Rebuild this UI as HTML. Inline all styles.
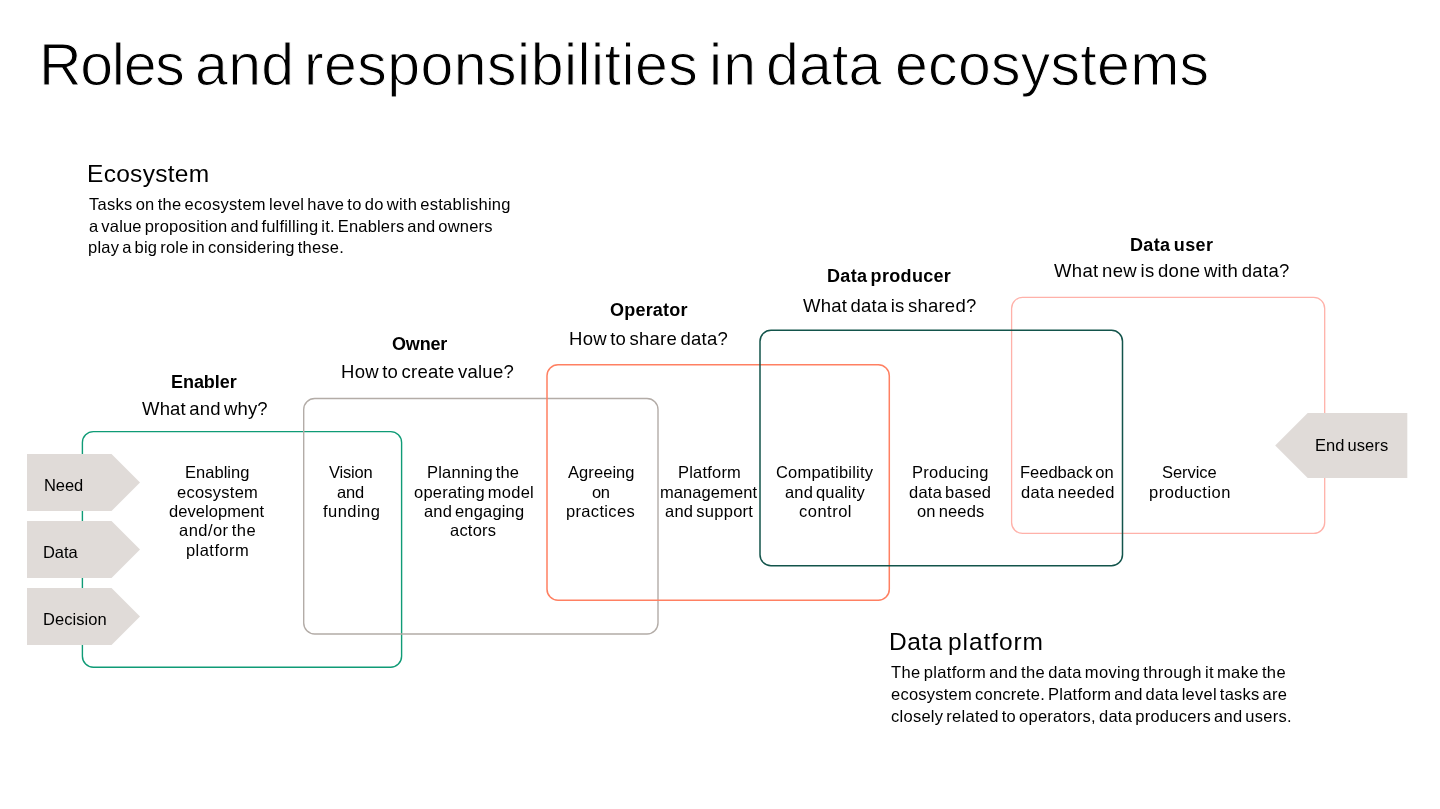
<!DOCTYPE html>
<html lang="en">
<head>
<meta charset="utf-8">
<title>Roles and responsibilities in data ecosystems</title>
<style>
html,body{margin:0;padding:0;background:#ffffff;}
body{width:1440px;height:809px;position:relative;overflow:hidden;font-family:"Liberation Sans", sans-serif;color:#000000;}
svg.shapes{position:absolute;left:0;top:0;width:1440px;height:809px;}
.t{position:absolute;white-space:nowrap;line-height:1;margin:0;padding:0;will-change:transform;}
.title{-webkit-text-stroke:1.0px #ffffff;}
.h{-webkit-text-stroke:0px #ffffff;}
</style>
</head>
<body>
<svg class="shapes" viewBox="0 0 1440 809" width="1440" height="809">
<rect x="1011.6" y="297.4" width="313.1" height="236.0" rx="11" ry="11" fill="none" stroke="#ffb1a9" stroke-width="1.3"/>
<rect x="82.4" y="431.6" width="319.2" height="235.6" rx="11" ry="11" fill="none" stroke="#0f9b76" stroke-width="1.4"/>
<rect x="303.7" y="398.5" width="354.3" height="235.5" rx="11" ry="11" fill="none" stroke="#b3aca7" stroke-width="1.4"/>
<rect x="547.0" y="364.7" width="342.3" height="235.6" rx="11" ry="11" fill="none" stroke="#ff8062" stroke-width="1.5"/>
<rect x="760.0" y="330.2" width="362.5" height="235.6" rx="11" ry="11" fill="none" stroke="#13544b" stroke-width="1.5"/>
<polygon points="27,454 111.5,454 140,482.5 111.5,511 27,511" fill="#e0dbd8"/>
<polygon points="27,521 111.5,521 140,549.5 111.5,578 27,578" fill="#e0dbd8"/>
<polygon points="27,588 111.5,588 140,616.5 111.5,645 27,645" fill="#e0dbd8"/>
<polygon points="1407.3,413 1307.7,413 1275.2,445.5 1307.7,478 1407.3,478" fill="#e0dbd8"/>
</svg>
<div class="t title" style="left:39.4px;top:35.7px;font-size:59px;letter-spacing:-1.3px;">Roles</div>
<div class="t title" style="left:194.5px;top:35.7px;font-size:59px;letter-spacing:0.35px;">and</div>
<div class="t title" style="left:303.8px;top:35.7px;font-size:59px;letter-spacing:0.453px;">responsibilities</div>
<div class="t title" style="left:709.1px;top:35.7px;font-size:59px;letter-spacing:1.1px;">in</div>
<div class="t title" style="left:765.6px;top:35.7px;font-size:59px;letter-spacing:0.167px;">data</div>
<div class="t title" style="left:894.8px;top:35.7px;font-size:59px;letter-spacing:0.289px;">ecosystems</div>
<div class="t h" style="left:87.4px;top:161.6px;font-size:24.5px;letter-spacing:0.3px;">Ecosystem</div>
<div class="t" style="left:89.4px;top:195.7px;font-size:16.5px;letter-spacing:0.284px;word-spacing:-1.81px;">Tasks on the ecosystem level have to do with establishing</div>
<div class="t" style="left:89.4px;top:217.5px;font-size:16.5px;letter-spacing:0.188px;word-spacing:-1.81px;">a value proposition and fulfilling it. Enablers and owners</div>
<div class="t" style="left:88.4px;top:239.4px;font-size:16.5px;letter-spacing:0.222px;word-spacing:-1.81px;">play a big role in considering these.</div>
<div class="t" style="left:170.7px;top:372.8px;font-size:18px;font-weight:700;letter-spacing:-0.05px;">Enabler</div>
<div class="t" style="left:141.7px;top:400.0px;font-size:18.5px;letter-spacing:0.183px;word-spacing:-2.04px;">What and why?</div>
<div class="t" style="left:392.2px;top:335.0px;font-size:18px;font-weight:700;letter-spacing:-0.175px;">Owner</div>
<div class="t" style="left:340.7px;top:363.3px;font-size:18.5px;letter-spacing:0.268px;word-spacing:-2.04px;">How to create value?</div>
<div class="t" style="left:610.0px;top:300.6px;font-size:18px;font-weight:700;letter-spacing:0.214px;">Operator</div>
<div class="t" style="left:569.0px;top:330.3px;font-size:18.5px;letter-spacing:0.265px;word-spacing:-2.04px;">How to share data?</div>
<div class="t" style="left:827.1px;top:267.2px;font-size:18px;font-weight:700;letter-spacing:0.317px;word-spacing:-1.98px;">Data producer</div>
<div class="t" style="left:803.1px;top:296.6px;font-size:18.5px;letter-spacing:0.237px;word-spacing:-2.04px;">What data is shared?</div>
<div class="t" style="left:1129.8px;top:235.6px;font-size:18px;font-weight:700;letter-spacing:0.363px;word-spacing:-1.98px;">Data user</div>
<div class="t" style="left:1054.0px;top:262.1px;font-size:18.5px;letter-spacing:0.346px;word-spacing:-2.04px;">What new is done with data?</div>
<div class="t" style="left:185.1px;top:464.3px;font-size:16.5px;letter-spacing:0.029px;">Enabling</div>
<div class="t" style="left:176.9px;top:483.63px;font-size:16.5px;letter-spacing:0.25px;">ecosystem</div>
<div class="t" style="left:169.2px;top:502.96px;font-size:16.5px;letter-spacing:0.05px;">development</div>
<div class="t" style="left:178.9px;top:522.29px;font-size:16.5px;letter-spacing:0.456px;word-spacing:-1.81px;">and/or the</div>
<div class="t" style="left:185.7px;top:541.62px;font-size:16.5px;letter-spacing:0.443px;">platform</div>
<div class="t" style="left:328.6px;top:464.3px;font-size:16.5px;letter-spacing:-0.18px;">Vision</div>
<div class="t" style="left:336.7px;top:483.63px;font-size:16.5px;letter-spacing:-0.2px;">and</div>
<div class="t" style="left:322.5px;top:502.96px;font-size:16.5px;letter-spacing:0.467px;">funding</div>
<div class="t" style="left:426.8px;top:464.3px;font-size:16.5px;letter-spacing:0.191px;word-spacing:-1.81px;">Planning the</div>
<div class="t" style="left:413.6px;top:483.63px;font-size:16.5px;letter-spacing:0.229px;word-spacing:-1.81px;">operating model</div>
<div class="t" style="left:423.6px;top:502.96px;font-size:16.5px;letter-spacing:0.173px;word-spacing:-1.81px;">and engaging</div>
<div class="t" style="left:450.0px;top:522.29px;font-size:16.5px;letter-spacing:0.22px;">actors</div>
<div class="t" style="left:567.8px;top:464.3px;font-size:16.5px;letter-spacing:0.071px;">Agreeing</div>
<div class="t" style="left:591.7px;top:483.63px;font-size:16.5px;letter-spacing:-0.5px;">on</div>
<div class="t" style="left:565.7px;top:502.96px;font-size:16.5px;letter-spacing:0.337px;">practices</div>
<div class="t" style="left:677.6px;top:464.3px;font-size:16.5px;letter-spacing:0.2px;">Platform</div>
<div class="t" style="left:659.8px;top:483.63px;font-size:16.5px;letter-spacing:0.078px;">management</div>
<div class="t" style="left:665.0px;top:502.96px;font-size:16.5px;letter-spacing:0.26px;word-spacing:-1.81px;">and support</div>
<div class="t" style="left:775.6px;top:464.3px;font-size:16.5px;letter-spacing:0.208px;">Compatibility</div>
<div class="t" style="left:784.7px;top:483.63px;font-size:16.5px;letter-spacing:0.17px;word-spacing:-1.81px;">and quality</div>
<div class="t" style="left:798.6px;top:502.96px;font-size:16.5px;letter-spacing:0.5px;">control</div>
<div class="t" style="left:912.1px;top:464.3px;font-size:16.5px;letter-spacing:0.263px;">Producing</div>
<div class="t" style="left:909.4px;top:483.63px;font-size:16.5px;letter-spacing:0.244px;word-spacing:-1.81px;">data based</div>
<div class="t" style="left:916.7px;top:502.96px;font-size:16.5px;letter-spacing:0.171px;word-spacing:-1.81px;">on needs</div>
<div class="t" style="left:1020.1px;top:464.3px;font-size:16.5px;word-spacing:-1.81px;">Feedback on</div>
<div class="t" style="left:1020.6px;top:483.63px;font-size:16.5px;letter-spacing:0.35px;word-spacing:-1.81px;">data needed</div>
<div class="t" style="left:1162.3px;top:464.3px;font-size:16.5px;letter-spacing:-0.067px;">Service</div>
<div class="t" style="left:1149.0px;top:483.63px;font-size:16.5px;letter-spacing:0.478px;">production</div>
<div class="t" style="left:43.5px;top:476.8px;font-size:16.5px;letter-spacing:-0.1px;">Need</div>
<div class="t" style="left:43.4px;top:544.3px;font-size:16.5px;letter-spacing:-0.067px;">Data</div>
<div class="t" style="left:43.4px;top:610.8px;font-size:16.5px;letter-spacing:0.057px;">Decision</div>
<div class="t" style="left:1315.4px;top:437.4px;font-size:16.5px;letter-spacing:0.087px;word-spacing:-1.81px;">End users</div>
<div class="t h" style="left:889.0px;top:630.0px;font-size:24.5px;letter-spacing:0.433px;">Data</div>
<div class="t h" style="left:948.3px;top:630.0px;font-size:24.5px;letter-spacing:0.914px;">platform</div>
<div class="t" style="left:891.0px;top:664.3px;font-size:16.5px;letter-spacing:0.359px;word-spacing:-1.81px;">The platform and the data moving through it make the</div>
<div class="t" style="left:891.0px;top:686.3px;font-size:16.5px;letter-spacing:0.237px;word-spacing:-1.81px;">ecosystem concrete. Platform and data level tasks are</div>
<div class="t" style="left:891.0px;top:708.3px;font-size:16.5px;letter-spacing:0.265px;word-spacing:-1.81px;">closely related to operators, data producers and users.</div>
</body>
</html>
